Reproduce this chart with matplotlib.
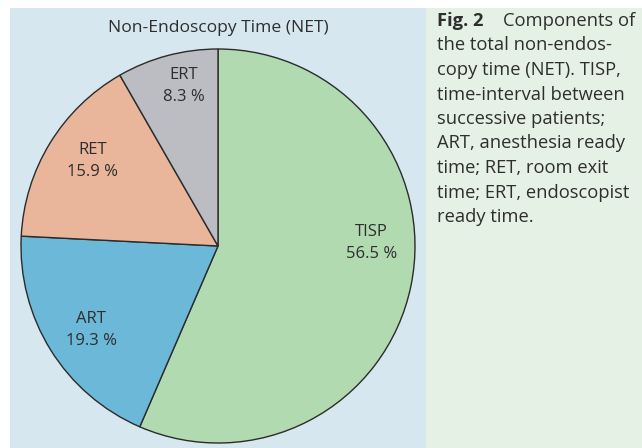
import matplotlib
matplotlib.use("Agg")
import matplotlib.pyplot as plt
from matplotlib.patches import Rectangle
import numpy as np

categories = ["TISP", "ART", "RET", "ERT"]
values = [56.5, 19.3, 15.9, 8.3]
colors = ["#b2dab1", "#6cb8d8", "#e9b59b", "#bcbdc2"]
title = "Non-Endoscopy Time (NET)"
caption_lines = [
    "the total non-endos-",
    "copy time (NET). TISP,",
    "time-interval between",
    "successive patients;",
    "ART, anesthesia ready",
    "time; RET, room exit",
    "time; ERT, endoscopist",
    "ready time.",
]

W, H = 642, 448
FONT = "Open Sans"
TXT = "#2e2e2e"

fig = plt.figure(figsize=(W / 100, H / 100), dpi=100)
fig.patch.set_facecolor("white")

# panels
fig.add_artist(Rectangle((10 / W, 0), (426 - 10) / W, (H - 8) / H,
                         transform=fig.transFigure, facecolor="#d7e7f0",
                         edgecolor="none", zorder=0))
fig.add_artist(Rectangle((426 / W, 0), (W - 426) / W, (H - 8) / H,
                         transform=fig.transFigure, facecolor="#e6f1e5",
                         edgecolor="none", zorder=0))

cx, cy, r = 218, 246, 197
ax = fig.add_axes([(cx - r) / W, (H - cy - r) / H, 2 * r / W, 2 * r / H])
ax.set_facecolor("none")
wedges, _ = ax.pie(values, colors=colors, startangle=90, counterclock=False,
                   wedgeprops=dict(edgecolor="#2b2b2b", linewidth=1.0))
for w in wedges:
    w.set_clip_on(False)
ax.set_xlim(-1, 1)
ax.set_ylim(-1, 1)
ax.set_aspect("equal")
ax.axis("off")

# labels
dists = {"TISP": 0.78, "ART": 0.77, "RET": 0.77, "ERT": 0.83}
angle_override = {"TISP": 1.0, "ART": -146.6, "RET": 145.8, "ERT": 102.0}
for w, cat, v in zip(wedges, categories, values):
    ang = angle_override.get(cat, (w.theta1 + w.theta2) / 2)
    d = dists[cat]
    x = d * np.cos(np.radians(ang))
    y = d * np.sin(np.radians(ang))
    ax.text(x, y, f"{cat}\n{v:.1f} %", ha="center", va="center",
            fontsize=12, family=FONT, color=TXT, linespacing=1.5)

fig.text(cx / W, 1 - 28 / H, title, ha="center", va="center",
         fontsize=12.6, family=FONT, color=TXT)

# caption
x0 = 437 / W
fig.text(x0, 1 - 21 / H, "Fig. 2", ha="left", va="center", fontsize=13.2,
         family=FONT, weight="bold", color=TXT)
fig.text(503 / W, 1 - 21 / H, "Components of", ha="left", va="center",
         fontsize=13.2, family=FONT, color=TXT)
for i, line in enumerate(caption_lines):
    fig.text(x0, 1 - (45.5 + 24.5 * i) / H, line, ha="left", va="center",
             fontsize=13.2, family=FONT, color=TXT)

fig.savefig("out.png", dpi=100)
